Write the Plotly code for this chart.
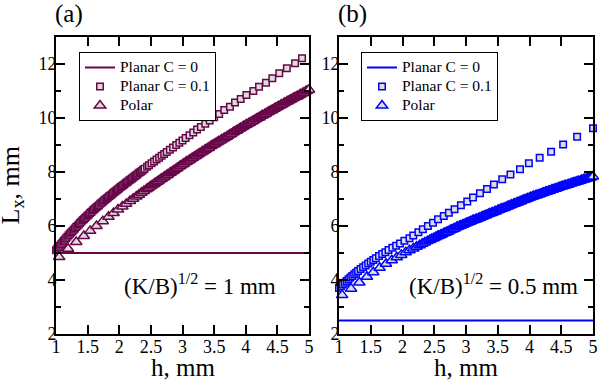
import plotly.graph_objects as go

# ---------------- data ----------------
# Planar C = 0 (constant)
planar0_h = [1.0, 5.0]
planar0_a = [5.0, 5.0]
planar0_b = [2.5, 2.5]

# Planar C = 0.1, panel (a)
sq_a_h = [1.00, 1.02, 1.04, 1.06, 1.08, 1.10, 1.12, 1.14, 1.16, 1.18,
          1.20, 1.22, 1.24, 1.26, 1.28, 1.30, 1.32, 1.34, 1.36, 1.38,
          1.40, 1.42, 1.44, 1.46, 1.48, 1.50, 1.52, 1.54, 1.56, 1.58,
          1.60, 1.62, 1.64, 1.66, 1.68, 1.70, 1.72, 1.74, 1.76, 1.78,
          1.80, 1.82, 1.84, 1.86, 1.88, 1.90, 1.92, 1.94, 1.96, 1.98,
          2.00, 2.02, 2.04, 2.06, 2.08, 2.10, 2.12, 2.14, 2.16, 2.18,
          2.20, 2.22, 2.24, 2.26, 2.28, 2.30, 2.32, 2.34, 2.36, 2.38,
          2.40, 2.44, 2.47, 2.51, 2.55, 2.59, 2.63, 2.67, 2.71, 2.75,
          2.80, 2.85, 2.90, 2.95, 3.00, 3.05, 3.11, 3.17, 3.23, 3.29,
          3.36, 3.43, 3.50, 3.58, 3.66, 3.75, 3.83, 3.92, 4.01, 4.12,
          4.21, 4.32, 4.42, 4.53, 4.65, 4.78, 4.89, 5.02]
sq_a_L = [5.10, 5.16, 5.21, 5.27, 5.32, 5.38, 5.44, 5.49, 5.55, 5.60,
          5.66, 5.71, 5.76, 5.81, 5.86, 5.91, 5.96, 6.01, 6.06, 6.11,
          6.16, 6.21, 6.25, 6.30, 6.34, 6.39, 6.43, 6.48, 6.52, 6.57,
          6.61, 6.65, 6.69, 6.73, 6.77, 6.82, 6.86, 6.90, 6.94, 6.98,
          7.02, 7.06, 7.10, 7.13, 7.17, 7.21, 7.25, 7.29, 7.32, 7.36,
          7.40, 7.44, 7.47, 7.51, 7.54, 7.58, 7.62, 7.65, 7.69, 7.72,
          7.76, 7.80, 7.83, 7.87, 7.90, 7.94, 7.98, 8.01, 8.05, 8.08,
          8.12, 8.19, 8.25, 8.32, 8.39, 8.46, 8.53, 8.60, 8.67, 8.74,
          8.82, 8.91, 9.00, 9.08, 9.17, 9.26, 9.36, 9.46, 9.57, 9.67,
          9.79, 9.91, 10.03, 10.15, 10.30, 10.42, 10.57, 10.70, 10.85, 11.00,
          11.16, 11.31, 11.47, 11.66, 11.84, 12.03, 12.21, 12.37]

# Planar C = 0.1, panel (b)
sq_b_h = [1.00, 1.03, 1.06, 1.09, 1.12, 1.15, 1.18, 1.21, 1.24, 1.27, 1.30, 1.34, 1.38, 1.42,
          1.46, 1.50, 1.54, 1.58, 1.63, 1.68, 1.73, 1.78, 1.84, 1.90, 1.96, 2.03, 2.11, 2.17,
          2.25, 2.32, 2.40, 2.48, 2.56, 2.65, 2.73, 2.82, 2.92, 3.02, 3.11, 3.22, 3.33, 3.44,
          3.57, 3.70, 3.85, 3.99, 4.16, 4.34, 4.53, 4.75, 5.00]
sq_b_L = [3.70, 3.77, 3.83, 3.90, 3.96, 4.03, 4.09, 4.15, 4.21, 4.27, 4.33, 4.41, 4.47, 4.54,
          4.61, 4.68, 4.74, 4.81, 4.89, 4.96, 5.03, 5.11, 5.19, 5.27, 5.35, 5.45, 5.55, 5.65,
          5.77, 5.88, 6.00, 6.12, 6.25, 6.37, 6.49, 6.62, 6.77, 6.91, 7.06, 7.21, 7.37, 7.54,
          7.73, 7.91, 8.10, 8.32, 8.53, 8.75, 9.02, 9.31, 9.62]

# Polar (both panels share the same h samples)
polar_h = [1.05, 1.19, 1.32, 1.44, 1.54, 1.64, 1.74, 1.83, 1.91,
           1.98, 2.05, 2.11, 2.17, 2.22, 2.27, 2.31, 2.35, 2.39, 2.43, 2.46, 2.49,
           2.52, 2.55, 2.57, 2.60, 2.62, 2.65, 2.67, 2.70, 2.72, 2.75,
           2.77, 2.80, 2.82, 2.85, 2.87, 2.90, 2.92, 2.95, 2.97, 3.00,
           3.02, 3.05, 3.07, 3.10, 3.12, 3.15, 3.17, 3.20, 3.22, 3.25,
           3.27, 3.30, 3.32, 3.35, 3.37, 3.40, 3.42, 3.45, 3.47, 3.50,
           3.52, 3.55, 3.57, 3.60, 3.62, 3.65, 3.67, 3.70, 3.72, 3.75,
           3.77, 3.80, 3.82, 3.85, 3.87, 3.90, 3.92, 3.95, 3.97, 4.00,
           4.02, 4.05, 4.07, 4.10, 4.12, 4.15, 4.17, 4.20, 4.22, 4.25,
           4.27, 4.30, 4.32, 4.35, 4.37, 4.40, 4.42, 4.45, 4.47, 4.50,
           4.52, 4.55, 4.57, 4.60, 4.62, 4.65, 4.67, 4.70, 4.72, 4.75,
           4.77, 4.80, 4.82, 4.85, 4.87, 4.90, 4.92, 4.95, 4.97, 5.00]
polar_a = [4.85, 5.16, 5.41, 5.63, 5.82, 6.00, 6.18, 6.34, 6.48,
           6.61, 6.72, 6.82, 6.93, 7.01, 7.09, 7.16, 7.23, 7.30, 7.36, 7.41, 7.46,
           7.51, 7.56, 7.59, 7.64, 7.67, 7.72, 7.75, 7.80, 7.83, 7.88,
           7.91, 7.96, 7.99, 8.04, 8.07, 8.12, 8.15, 8.20, 8.23, 8.28,
           8.31, 8.36, 8.39, 8.43, 8.46, 8.51, 8.54, 8.58, 8.61, 8.66,
           8.69, 8.73, 8.76, 8.81, 8.84, 8.88, 8.91, 8.96, 8.99, 9.03,
           9.06, 9.10, 9.13, 9.17, 9.20, 9.24, 9.27, 9.31, 9.34, 9.39,
           9.41, 9.46, 9.49, 9.53, 9.56, 9.60, 9.63, 9.67, 9.70, 9.74,
           9.77, 9.81, 9.83, 9.87, 9.90, 9.94, 9.97, 10.01, 10.03, 10.08,
           10.10, 10.14, 10.17, 10.21, 10.24, 10.28, 10.30, 10.34, 10.37, 10.41,
           10.44, 10.47, 10.50, 10.54, 10.57, 10.60, 10.63, 10.67, 10.69, 10.73,
           10.76, 10.79, 10.81, 10.85, 10.88, 10.92, 10.94, 10.99, 11.01, 11.05]
polar_b = [3.44, 3.68, 3.91, 4.12, 4.29, 4.45, 4.60, 4.73, 4.84,
           4.93, 5.03, 5.10, 5.17, 5.23, 5.29, 5.34, 5.39, 5.44, 5.48, 5.52, 5.55,
           5.58, 5.62, 5.64, 5.67, 5.69, 5.73, 5.75, 5.78, 5.80, 5.84,
           5.86, 5.89, 5.91, 5.95, 5.97, 6.00, 6.02, 6.05, 6.07, 6.10,
           6.12, 6.15, 6.17, 6.20, 6.22, 6.24, 6.26, 6.29, 6.31, 6.34,
           6.36, 6.39, 6.41, 6.44, 6.46, 6.48, 6.50, 6.53, 6.55, 6.58,
           6.60, 6.63, 6.65, 6.67, 6.69, 6.72, 6.74, 6.77, 6.79, 6.82,
           6.83, 6.86, 6.88, 6.91, 6.93, 6.96, 6.97, 7.00, 7.02, 7.05,
           7.07, 7.09, 7.11, 7.13, 7.15, 7.17, 7.19, 7.21, 7.23, 7.26,
           7.27, 7.30, 7.31, 7.34, 7.35, 7.38, 7.39, 7.42, 7.44, 7.46,
           7.47, 7.50, 7.51, 7.53, 7.55, 7.57, 7.59, 7.61, 7.62, 7.65,
           7.66, 7.68, 7.70, 7.72, 7.73, 7.76, 7.77, 7.79, 7.81, 7.83]

x_ticks = [1, 1.5, 2, 2.5, 3, 3.5, 4, 4.5, 5]
x_ticktext = ["1", "1.5", "2", "2.5", "3", "3.5", "4", "4.5", "5"]
y_ticks = [2, 4, 6, 8, 10, 12]
y_ticktext = ["2", "4", "6", "8", "10", "12"]
y_minor = [3, 5, 7, 9, 11, 13]

names = ["Planar C = 0", "Planar C = 0.1", "Polar"]
notes = ["(K/B)<sup>1/2</sup> = 1 mm", "(K/B)<sup>1/2</sup> = 0.5 mm"]
panel_labels = ["(a)", "(b)"]
x_title = "h, mm"
y_title = "L<sub>x</sub>, mm"

# ---------------- style ----------------
FONT = "Liberation Serif"
MAROON = "rgb(103,7,72)"
BLUE = "rgb(0,0,255)"
FILL = "rgb(220,220,220)"
W, H = 599, 382


def leg_name(s):
    return ('<span style="font-family:\'Liberation Serif\';font-size:15.5px">'
            + s + "</span>")


fig = go.Figure()


def add_panel(color, line_L, sq_h, sq_L, pol_L, xa, ya, leg):
    fig.add_trace(go.Scatter(x=planar0_h, y=line_L, mode="lines", name=leg_name(names[0]),
                             line=dict(color=color, width=2), xaxis=xa, yaxis=ya,
                             legend=leg, cliponaxis=False))
    fig.add_trace(go.Scatter(x=sq_h, y=sq_L, mode="markers", name=leg_name(names[1]),
                             marker=dict(symbol="square", size=6.5, color=FILL,
                                         line=dict(color=color, width=1.5)),
                             xaxis=xa, yaxis=ya, legend=leg, cliponaxis=False))
    fig.add_trace(go.Scatter(x=polar_h, y=pol_L, mode="markers", name=leg_name(names[2]),
                             marker=dict(symbol="triangle-up", size=10, color=FILL,
                                         line=dict(color=color, width=1.5)),
                             xaxis=xa, yaxis=ya, legend=leg, cliponaxis=False))


add_panel(MAROON, planar0_a, sq_a_h, sq_a_L, polar_a, "x", "y", "legend")
add_panel(BLUE, planar0_b, sq_b_h, sq_b_L, polar_b, "x2", "y2", "legend2")

ydom = [1 - 334 / H, 1 - 37 / H]
xdom_a = [56 / W, 309 / W]
xdom_b = [339 / W, 593 / W]


def xaxis(dom, anchor):
    return dict(domain=dom, anchor=anchor, range=[1, 5], tickmode="array",
                tickvals=x_ticks, ticktext=x_ticktext, ticks="inside", ticklen=9,
                tickwidth=2, tickcolor="black", showline=True, linewidth=2,
                linecolor="black", mirror="ticks", showgrid=False, zeroline=False,
                ticklabeloverflow="allow", ticklabelstandoff=-5, automargin=False,
                tickfont=dict(family=FONT, size=18, color="black"))


def yaxis(anchor):
    return dict(domain=ydom, anchor=anchor, range=[2, 13], tickmode="array",
                tickvals=y_ticks, ticktext=y_ticktext, ticks="inside", ticklen=9,
                tickwidth=2, tickcolor="black", showline=True, linewidth=2,
                linecolor="black", mirror="ticks", showgrid=False, zeroline=False,
                ticklabeloverflow="allow", ticklabelstandoff=-6, automargin=False,
                minor=dict(tickvals=y_minor, ticks="inside", ticklen=5,
                           tickwidth=2, tickcolor="black", showgrid=False),
                tickfont=dict(family=FONT, size=18, color="black"))


legend_common = dict(yanchor="top", xanchor="left", bgcolor="white",
                     bordercolor="black", borderwidth=1, itemwidth=30,
                     tracegroupgap=0,
                     font=dict(family=FONT, size=11, color="black"))

txt = dict(family=FONT, color="black")
ann = [
    dict(text=notes[0], x=3.27, y=3.85, xref="x", yref="y", showarrow=False,
         font=dict(size=23, **txt)),
    dict(text=notes[1], x=3.43, y=3.85, xref="x2", yref="y2", showarrow=False,
         font=dict(size=23, **txt)),
    dict(text=panel_labels[0], x=53 / W, y=1, xref="paper", yref="paper",
         xanchor="left", yanchor="top", yshift=2, showarrow=False,
         font=dict(size=25, **txt)),
    dict(text=panel_labels[1], x=336 / W, y=1, xref="paper", yref="paper",
         xanchor="left", yanchor="top", yshift=2, showarrow=False,
         font=dict(size=25, **txt)),
    dict(text=x_title, x=sum(xdom_a) / 2, y=(H - 367) / H, xref="paper", yref="paper",
         xanchor="center", yanchor="middle", showarrow=False, font=dict(size=25, **txt)),
    dict(text=x_title, x=sum(xdom_b) / 2, y=(H - 367) / H, xref="paper", yref="paper",
         xanchor="center", yanchor="middle", showarrow=False, font=dict(size=25, **txt)),
    dict(text=y_title, x=11 / W, y=sum(ydom) / 2, xref="paper", yref="paper",
         xanchor="center", yanchor="middle", textangle=-90, showarrow=False,
         font=dict(size=26, **txt)),
]

fig.update_layout(
    width=W, height=H, margin=dict(l=0, r=0, t=0, b=0, autoexpand=False),
    paper_bgcolor="white", plot_bgcolor="white",
    font=dict(family=FONT, color="black"),
    xaxis=xaxis(xdom_a, "y"),
    yaxis=yaxis("x"),
    xaxis2=xaxis(xdom_b, "y2"),
    yaxis2=yaxis("x2"),
    legend=dict(x=79 / W, y=1 - 52 / H, **legend_common),
    legend2=dict(x=361 / W, y=1 - 52 / H, **legend_common),
    annotations=ann,
)

fig.write_html(
    "out.html",
    config={"displayModeBar": False},
    post_script="document.body.style.margin='0px';document.body.style.overflow='hidden';",
)
